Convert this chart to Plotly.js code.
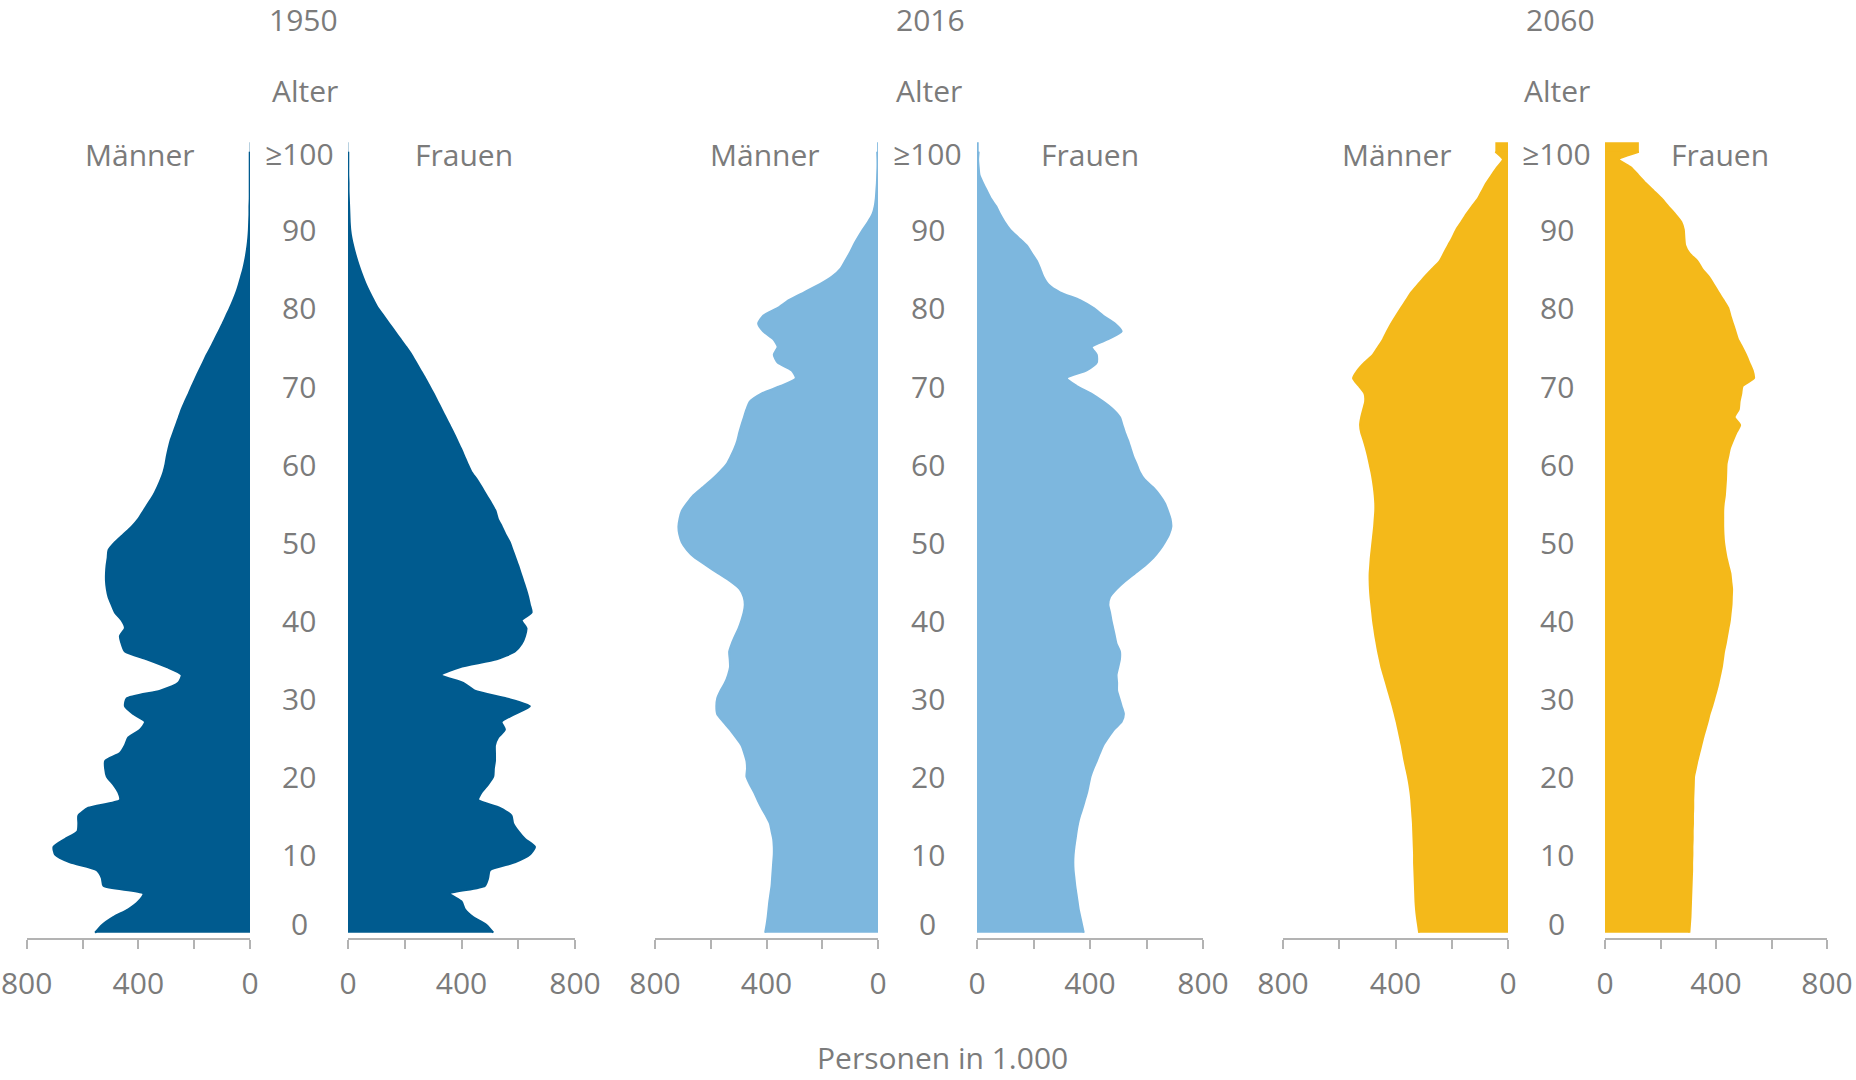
<!DOCTYPE html>
<html>
<head>
<meta charset="utf-8">
<script src="https://cdn.plot.ly/plotly-3.0.1.min.js"></script>
<style>html,body{margin:0;padding:0;background:#fff;}#chart{width:1856px;height:1080px;}</style>
</head>
<body>
<div id="chart"></div>
<script>
// Age (single years, last = "≥100")
const ages = [0,1,2,3,4,5,6,7,8,9,10,11,12,13,14,15,16,17,18,19,20,21,22,23,24,25,26,27,28,29,30,31,32,33,34,35,36,37,38,39,40,41,42,43,44,45,46,47,48,49,50,51,52,53,54,55,56,57,58,59,60,61,62,63,64,65,66,67,68,69,70,71,72,73,74,75,76,77,78,79,80,81,82,83,84,85,86,87,88,89,90,91,92,93,94,95,96,97,98,99,100];
const ageTickVals = [0,10,20,30,40,50,60,70,80,90,100];
const ageTickText = ['0','10','20','30','40','50','60','70','80','90','≥100'];
const years = ['1950','2016','2060'];
const xTickVals = [0,200,400,600,800];
const xTickText = ['0','','400','','800'];

// Personen in 1.000 (index = age, last entry = ≥100)
const maenner1950 = [555,530,490,436,400,382,525,531,549,645,
 698,704,663,618,615,615,579,466,472,490,
 513,519,519,466,448,436,394,376,418,448,
 442,322,257,245,298,370,448,460,466,448,
 460,484,496,507,513,516,516,514,510,507,
 484,454,424,400,382,364,346,332,320,310,
 303,298,292,285,275,265,255,245,233,220,
 208,195,182,168,155,140,126,112,98,85,
 72,60,49,40,32,24,18,13,9,6,
 4,3,2,2,1,1,1,1,1,1,1];
const frauen1950 = [512,488,441,412,400,359,482,494,500,588,
 641,659,624,600,582,576,535,459,471,494,
 512,514,518,518,518,529,553,541,588,641,
 559,447,406,329,394,524,588,612,624,629,
 612,647,641,635,627,618,609,600,590,580,
 570,555,542,528,520,505,488,472,455,435,
 422,410,398,385,372,358,344,330,316,302,
 287,272,256,240,224,205,185,165,145,125,
 105,90,76,63,52,42,33,25,18,12,
 8,6,5,4,3,2,2,1,1,1,1];
const maenner2016 = [405,400,396,393,390,386,382,380,378,376,
 374,374,376,382,388,402,418,432,445,460,
 472,470,472,480,490,510,531,555,577,580,
 577,565,549,538,531,532,534,525,513,500,
 490,482,478,482,496,530,573,615,657,685,
 704,713,716,712,704,685,663,630,597,568,
 543,528,515,505,498,490,481,472,460,420,
 350,295,310,360,374,360,376,412,430,412,
 360,320,265,210,165,135,118,102,88,72,
 55,36,20,12,8,6,4,3,2,2,3];
const frauen2016 = [378,372,366,360,356,352,348,345,342,341,
 342,345,349,353,358,365,374,382,390,396,
 402,412,424,435,447,465,485,512,520,512,
 504,496,496,494,500,506,506,494,488,482,
 476,471,465,471,494,524,559,594,624,647,
 665,680,688,685,676,665,647,624,594,576,
 565,553,544,535,524,515,506,482,447,406,
 353,318,388,424,424,406,465,512,488,447,
 412,365,294,253,235,224,212,194,176,147,
 118,98,82,68,49,35,21,9,6,4,6];
const maenner2060 = [316,320,324,327,329,330,331,332,333,334,
 334,335,336,337,338,340,342,344,347,351,
 356,362,368,373,378,384,390,396,403,410,
 418,426,434,442,450,456,462,467,472,476,
 480,483,486,489,491,492,492,490,488,485,
 482,479,476,474,472,472,474,477,481,486,
 492,498,505,513,522,526,522,515,508,510,
 530,551,535,510,480,462,444,430,415,398,
 380,362,344,320,296,270,243,228,213,198,
 184,166,148,128,107,92,77,58,39,18,45];
const frauen2060 = [304,306,308,309,310,311,312,313,314,314,
 315,315,316,316,317,317,318,318,319,320,
 321,327,333,340,347,354,362,370,377,386,
 394,402,409,415,421,425,429,435,440,445,
 450,453,456,457,458,455,452,445,438,433,
 429,427,426,426,426,428,432,434,436,437,
 438,444,450,461,473,487,467,482,485,491,
 496,537,532,520,508,494,479,470,461,452,
 444,427,409,392,374,350,333,304,289,286,
 284,275,253,228,204,175,146,120,93,50,122];

const colors = ['#005b8f', '#7db7de', '#f4b91a'];
const textColor = '#7b7b7b';
const axisColor = '#b3b3b3';
const fontFam = 'Open Sans, Noto Sans, DejaVu Sans, sans-serif';

const series = [
  {m: maenner1950, f: frauen1950},
  {m: maenner2016, f: frauen2016},
  {m: maenner2060, f: frauen2060}
];

// panel pixel geometry (full image)
const W = 1856, H = 1080;
const mDom = [[26.7,250],[655,878],[1283,1508]];
const fDom = [[348,575],[977,1203],[1605,1827]];
const titleX = [303,930,1560];
const alterX = [305,929,1557];
const gapX = [299,927.5,1556.5];
const maennerX = [140,765,1397];
const frauenX = [464,1090,1720];

const traces = [];
const layout = {
  width: W, height: H,
  margin: {l:0, r:0, t:0, b:0},
  paper_bgcolor: '#ffffff', plot_bgcolor: 'rgba(0,0,0,0)',
  showlegend: false,
  font: {family: fontFam, size: 30, color: textColor},
  yaxis: {domain: [1-937.5/H, 1-142/H], range: [-0.61, 101.24], visible: false, showgrid: false, zeroline: false, fixedrange: true, anchor: 'x'},
  annotations: []
};

function xAxisDef(dom, reversed) {
  return {
    domain: [dom[0]/W, dom[1]/W],
    range: reversed ? [800, 0] : [0, 800],
    anchor: 'y',
    showgrid: false, zeroline: false,
    showline: true, linecolor: axisColor, linewidth: 2,
    ticks: 'outside', ticklen: 9, tickwidth: 2, tickcolor: axisColor,
    tickvals: xTickVals, ticktext: xTickText,
    tickfont: {family: fontFam, size: 30, color: textColor},
    ticklabelstandoff: 9,
    ticklabeloverflow: 'allow',
    fixedrange: true
  };
}

const nAges = ages.length - 1; // index of the "≥100" group

function sideTraces(vals, xa, color) {
  return [
    {
      // the open-ended "≥100" group, drawn as a block on top
      type: 'bar', orientation: 'h', x: [vals[nAges]], y: [ages[nAges]],
      width: 1.3, offset: -0.1,
      xaxis: xa, yaxis: 'y', marker: {color: color, line: {width: 0}},
      hoverinfo: 'skip'
    },
    {
      type: 'scatter', mode: 'lines', x: vals, y: ages,
      xaxis: xa, yaxis: 'y', fill: 'tozerox', fillcolor: color,
      line: {color: color, width: 2, shape: 'spline', smoothing: 0.6},
      hoverinfo: 'skip'
    }
  ];
}

series.forEach((s, i) => {
  const xm = 'x' + (2*i+1 === 1 ? '' : (2*i+1));
  const xf = 'x' + (2*i+2);
  traces.push(...sideTraces(s.m, xm, colors[i]));
  traces.push(...sideTraces(s.f, xf, colors[i]));
  layout['xaxis' + (2*i+1 === 1 ? '' : (2*i+1))] = xAxisDef(mDom[i], true);
  layout['xaxis' + (2*i+2)] = xAxisDef(fDom[i], false);

  const ann = layout.annotations;
  ann.push({text: years[i], x: titleX[i]/W, y: 1-19/H, xref: 'paper', yref: 'paper', showarrow: false, xanchor: 'center', yanchor: 'middle'});
  ann.push({text: 'Alter', x: alterX[i]/W, y: 1-90/H, xref: 'paper', yref: 'paper', showarrow: false, xanchor: 'center', yanchor: 'middle'});
  ann.push({text: 'Männer', x: maennerX[i]/W, y: 1-155/H, xref: 'paper', yref: 'paper', showarrow: false, xanchor: 'center', yanchor: 'middle'});
  ann.push({text: 'Frauen', x: frauenX[i]/W, y: 1-155/H, xref: 'paper', yref: 'paper', showarrow: false, xanchor: 'center', yanchor: 'middle'});
  ageTickVals.forEach((a, k) => {
    ann.push({text: ageTickText[k], x: gapX[i]/W, y: a, xref: 'paper', yref: 'y', showarrow: false,
      xanchor: 'center', yanchor: 'middle', yshift: a === 0 ? 9 : (a === 100 ? -2 : 0)});
  });
});

layout.annotations.push({text: 'Personen in 1.000', x: 942/W, y: 1-1057/H, xref: 'paper', yref: 'paper',
  showarrow: false, xanchor: 'center', yanchor: 'middle'});

Plotly.newPlot('chart', traces, layout, {displayModeBar: false, staticPlot: true});
</script>
</body>
</html>
